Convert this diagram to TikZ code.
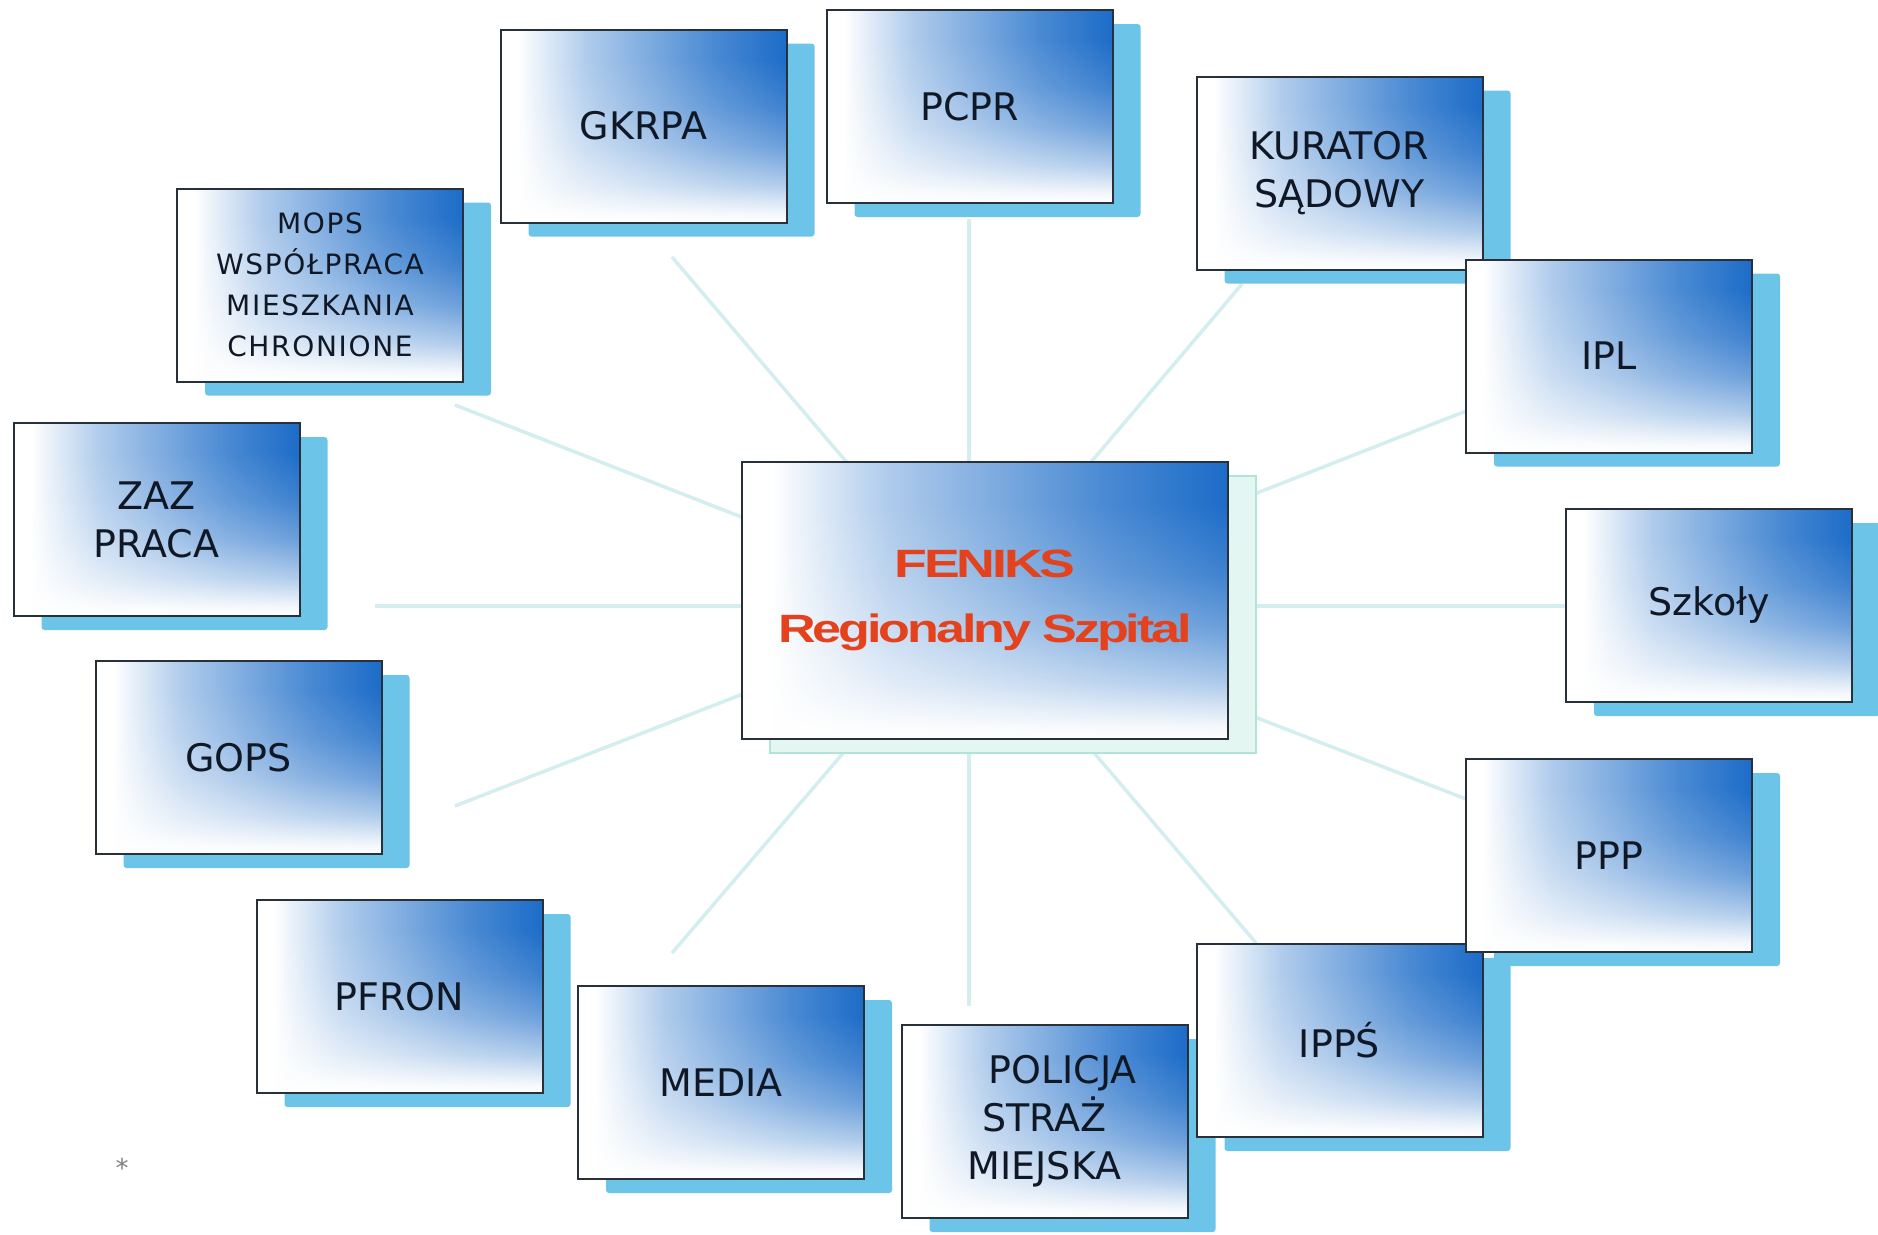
\documentclass[tikz,border=0pt]{standalone}
\usepackage{fontspec}
\setmainfont{DejaVu Sans}
\newfontfamily\mopsfont[LetterSpace=6]{DejaVu Sans}
\newfontfamily\fenfont[LetterSpace=-6]{Liberation Sans}
\usetikzlibrary{fadings}
\definecolor{bdeep}{RGB}{28,108,200}
\definecolor{shadowblue}{RGB}{108,196,232}
\definecolor{boxline}{RGB}{40,48,58}
\definecolor{txtdark}{RGB}{16,24,38}
\definecolor{linecyan}{RGB}{212,238,240}
\definecolor{mintfill}{RGB}{228,246,242}
\definecolor{mintline}{RGB}{176,228,216}
\definecolor{fenred}{RGB}{228,66,28}
\definecolor{stargray}{RGB}{128,128,128}
\pgfdeclarehorizontalshading{boxgrad}{100bp}{color(0bp)=(white); color(25bp)=(white); color(28bp)=(white); color(40bp)=(bdeep!35!white); color(50bp)=(bdeep!55!white); color(62.5bp)=(bdeep!80!white); color(75bp)=(bdeep); color(100bp)=(bdeep)}
\pgfdeclareverticalshading{fadeshade}{100bp}{color(0bp)=(white); color(25bp)=(white); color(27.5bp)=(white!95!black); color(35bp)=(white!65!black); color(45bp)=(white!35!black); color(55bp)=(white!15!black); color(67.5bp)=(black); color(100bp)=(black)}
\pgfdeclarefading{boxfade}{\pgfuseshading{fadeshade}}
\tikzset{
  gradfill/.style={shade, shading=boxgrad,
    path picture={\fill[white, path fading=boxfade] (path picture bounding box.south west) rectangle (path picture bounding box.north east);}},
  orgbox/.style={gradfill, draw=boxline, line width=2pt, minimum width=286pt, minimum height=193pt,
    inner sep=0pt, align=center, text=txtdark, font=\fontsize{38}{48}\selectfont},
  mopstext/.style={font=\mopsfont\fontsize{28}{41}\selectfont},
  shadowbox/.style={fill=shadowblue, rounded corners=3pt, minimum width=286pt, minimum height=193pt, inner sep=0pt},
  spoke/.style={draw=linecyan, line width=3.5pt},
}
\newcommand\orgbox[5][]{%
  \node[shadowbox] (#2-sh) at (#3+28,#4+14) {};
  \node[orgbox,#1] (#2) at (#3,#4) {#5};
}
\begin{document}
\begin{tikzpicture}[x=1pt,y=-1pt]
\fill[white] (0,0) rectangle (1878,1234);
\useasboundingbox (0,0) rectangle (1878,1234);
% spokes
\coordinate (hub) at (969,606);
\coordinate (e1) at (969,219);
\coordinate (e2) at (672,257);
\coordinate (e3) at (1242,284);
\coordinate (e4) at (1466,411);
\coordinate (e5) at (455,405);
\coordinate (e6) at (375,606);
\coordinate (e7) at (1565,606);
\coordinate (e8) at (455,806);
\coordinate (e9) at (672,953);
\coordinate (e10) at (969,1006);
\coordinate (e11) at (1256,943);
\coordinate (e12) at (1466,799);
\foreach \e in {e1,e2,e3,e4,e5,e6,e7,e8,e9,e10,e11,e12}
  \draw[spoke] (hub) -- (\e);
% centre
\node[fill=mintfill, draw=mintline, line width=2pt, minimum width=486pt, minimum height=277pt, inner sep=0pt] (feniks-sh) at (1013,614.5) {};
\node[gradfill, draw=boxline, line width=2pt, minimum width=486pt, minimum height=277pt, inner sep=0pt,
  align=center, text=fenred, font=\fenfont\bfseries\fontsize{39.5}{65}\selectfont] (feniks) at (985,600.5)
  {\scalebox{1.36}[1]{FENIKS}\\\scalebox{1.32}[1]{Regionalny Szpital}};
% outer boxes
\orgbox[mopstext]{mops}{320}{285}{MOPS\\WSPÓŁPRACA\\MIESZKANIA\hspace*{14pt}\\CHRONIONE}
\orgbox{gkrpa}{643.5}{126}{GKRPA}
\orgbox{pcpr}{969.5}{106.5}{PCPR}
\orgbox{kurator}{1339.5}{173}{KURATOR\\SĄDOWY}
\orgbox{ipl}{1609}{356}{IPL}
\orgbox{szkoly}{1709}{605.5}{Szkoły}
\orgbox{zaz}{156.5}{519.5}{ZAZ\\PRACA}
\orgbox{gops}{238.5}{757.5}{GOPS}
\orgbox{pfron}{399.5}{996.5}{PFRON}
\orgbox{media}{721}{1082.5}{MEDIA}
\orgbox{policja}{1044.5}{1121.5}{\hspace*{36pt}POLICJA\\STRAŻ\hspace*{12pt}\\MIEJSKA}
\orgbox{ipps}{1339.5}{1040.5}{IPPŚ}
\orgbox{ppp}{1609}{855.5}{PPP}
% asterisk
\node[text=stargray, font=\fontsize{26}{30}\selectfont, inner sep=0pt] (star) at (122,1168) {*};
\end{tikzpicture}
\end{document}
